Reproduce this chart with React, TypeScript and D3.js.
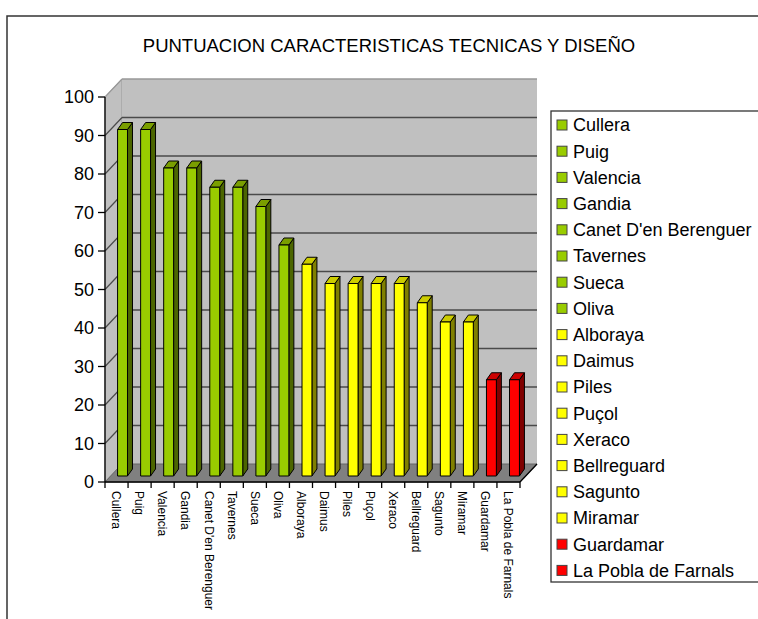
import React from "react";
import * as d3 from "d3";

const title = "PUNTUACION CARACTERISTICAS TECNICAS Y DISEÑO";
const categories = [
  "Cullera", "Puig", "Valencia", "Gandia", "Canet D'en Berenguer", "Tavernes",
  "Sueca", "Oliva", "Alboraya", "Daimus", "Piles", "Puçol", "Xeraco",
  "Bellreguard", "Sagunto", "Miramar", "Guardamar", "La Pobla de Farnals",
];
const values = [90, 90, 80, 80, 75, 75, 70, 60, 55, 50, 50, 50, 50, 45, 40, 40, 25, 25];
const groups = [
  "g", "g", "g", "g", "g", "g", "g", "g",
  "y", "y", "y", "y", "y", "y", "y", "y",
  "r", "r",
];
const yTicks = [0, 10, 20, 30, 40, 50, 60, 70, 80, 90, 100];

const palette: Record<string, { front: string; side: string; top: string }> = {
  g: { front: "#99CC00", side: "#4C6600", top: "#7A9E00" },
  y: { front: "#FFFF00", side: "#808000", top: "#CCCC00" },
  r: { front: "#FF0000", side: "#800000", top: "#CC0000" },
};

const FONT = "'Liberation Sans', Arial, sans-serif";

export default function App() {
  const W = 758, H = 619;
  const x0 = 105, x1 = 520;
  const y = d3.scaleLinear().domain([0, 100]).range([482, 97]);
  const x = d3.scaleBand<string>().domain(categories).range([x0, x1]).padding(0);
  const DX = 17, DY = -18; // wall depth
  const bdx = 6, bdy = -6; // bar front offset
  const sdx = 5, sdy = -7; // bar depth
  const bw = x.bandwidth() * 0.43;

  const legendTop = 111;
  const legendStep = 26.2;

  return (
    <svg width={W} height={H} style={{ position: "absolute", left: 0, top: 0, background: "#fff" }}>
      <rect x={7} y={16} width={W + 20} height={H + 20} fill="#fff" stroke="#333" strokeWidth={1.5} />
      <text x={389} y={52} textAnchor="middle" fontFamily={FONT} fontSize={18.5} fill="#000">{title}</text>

      {/* left wall */}
      <polygon points={`${x0},${y(0)} ${x0},${y(100)} ${x0 + DX},${y(100) + DY} ${x0 + DX},${y(0) + DY}`} fill="#C0C0C0" stroke="#999" strokeWidth={1} />
      {/* back wall */}
      <rect x={x0 + DX} y={y(100) + DY} width={x1 - x0} height={y(0) - y(100)} fill="#C0C0C0" />
      {/* floor */}
      <polygon points={`${x0},${y(0)} ${x1},${y(0)} ${x1 + DX},${y(0) + DY} ${x0 + DX},${y(0) + DY}`} fill="#808080" stroke="#666" strokeWidth={1} />

      {/* gridlines */}
      {yTicks.filter((t) => t > 0).map((t) => (
        <g key={`g${t}`}>
          <line x1={x0 + DX} x2={x1 + DX} y1={y(t) + DY} y2={y(t) + DY} stroke={t === 100 ? "#999" : "#4A4A4A"} strokeWidth={1.5} />
          <line x1={x0} x2={x0 + DX} y1={y(t)} y2={y(t) + DY} stroke={t === 100 ? "#999" : "#4A4A4A"} strokeWidth={1.2} />
        </g>
      ))}

      {/* bars */}
      {categories.map((c, i) => {
        const p = palette[groups[i]];
        const cx = (x(c) as number) + x.bandwidth() / 2;
        const fx = cx - bw / 2 + bdx;
        const top = y(values[i]) + bdy;
        const bot = y(0) + bdy;
        return (
          <g key={c} stroke="#000" strokeWidth={1} strokeLinejoin="round">
            <polygon points={`${fx + bw},${top} ${fx + bw + sdx},${top + sdy} ${fx + bw + sdx},${bot + sdy} ${fx + bw},${bot}`} fill={p.side} />
            <polygon points={`${fx},${top} ${fx + sdx},${top + sdy} ${fx + bw + sdx},${top + sdy} ${fx + bw},${top}`} fill={p.top} />
            <rect x={fx} y={top} width={bw} height={bot - top} fill={p.front} />
          </g>
        );
      })}

      {/* axes */}
      <line x1={x0} x2={x0} y1={y(100)} y2={y(0)} stroke="#000" strokeWidth={1.3} />
      <line x1={x0} x2={x1} y1={y(0)} y2={y(0)} stroke="#000" strokeWidth={1.3} />
      <line x1={x1} x2={x1 + DX} y1={y(0)} y2={y(0) + DY} stroke="#000" strokeWidth={1.3} />
      {yTicks.map((t) => (
        <g key={`yt${t}`}>
          <line x1={x0 - 7} x2={x0} y1={y(t)} y2={y(t)} stroke="#000" strokeWidth={1.3} />
          <text x={94} y={y(t)} dy="0.35em" textAnchor="end" fontFamily={FONT} fontSize={18} fill="#000">{t}</text>
        </g>
      ))}
      {categories.concat(["__end"]).map((c, i) => {
        const tx = i < categories.length ? (x(c) as number) : x1;
        return <line key={`xt${i}`} x1={tx} x2={tx} y1={y(0)} y2={y(0) + 6} stroke="#000" strokeWidth={1.3} />;
      })}
      {categories.map((c) => {
        const cx = (x(c) as number) + x.bandwidth() / 2;
        return (
          <text key={`xl${c}`} transform={`translate(${cx},491) rotate(90)`} dy="0.35em" fontFamily={FONT} fontSize={12} fill="#000">{c}</text>
        );
      })}

      {/* legend */}
      <rect x={551} y={legendTop} width={240} height={471} fill="#fff" stroke="#333" strokeWidth={1.3} />
      {categories.map((c, i) => {
        const cy = legendTop + 14 + i * legendStep;
        const p = palette[groups[i]];
        return (
          <g key={`lg${c}`}>
            <rect x={557} y={cy - 5} width={10} height={10} fill={p.front} stroke="#444" strokeWidth={1} />
            <text x={573} y={cy} dy="0.35em" fontFamily={FONT} fontSize={18} fill="#000">{c}</text>
          </g>
        );
      })}
    </svg>
  );
}
